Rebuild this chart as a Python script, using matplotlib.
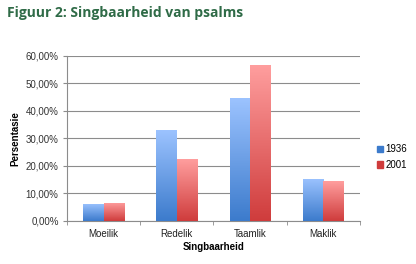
import numpy as np
import matplotlib.pyplot as plt
from matplotlib.colors import LinearSegmentedColormap
from matplotlib.ticker import FuncFormatter, MultipleLocator

# Data
categories = ['Moeilik', 'Redelik', 'Taamlik', 'Maklik']
series_names = ['1936', '2001']
values_1936 = [6.3, 33.0, 44.6, 15.4]
values_2001 = [6.7, 22.5, 56.6, 14.5]

# gradient colours (top, bottom)
blue_grad = ['#9cc3ff', '#3c7bcc']
red_grad = ['#ff9e9e', '#cf3c3c']

plt.rcParams['font.family'] = ['Liberation Sans', 'DejaVu Sans']

fig = plt.figure(figsize=(4.16, 2.64), dpi=100)
ax = fig.add_axes([0.161, 0.163, 0.704, 0.625])

x = np.arange(len(categories))
w = 0.28


def gradient_bars(bars, cols):
    cmap = LinearSegmentedColormap.from_list('g', [cols[1], cols[0]])
    grad = np.linspace(0, 1, 256).reshape(-1, 1)
    for b in bars:
        x0, y0 = b.get_x(), b.get_y()
        x1, y1 = x0 + b.get_width(), y0 + b.get_height()
        im = ax.imshow(grad, extent=[x0, x1, y0, y1], origin='lower',
                       cmap=cmap, aspect='auto', zorder=3)
        im.set_clip_path(b)


bars1 = ax.bar(x - w / 2, values_1936, w, color='none', zorder=2)
bars2 = ax.bar(x + w / 2, values_2001, w, color='none', zorder=2)
gradient_bars(bars1, blue_grad)
gradient_bars(bars2, red_grad)

ax.set_xlim(-0.5, len(categories) - 0.5)
ax.set_ylim(0, 60)
ax.yaxis.set_major_locator(MultipleLocator(10))
ax.yaxis.set_major_formatter(FuncFormatter(lambda v, p: f'{v:.2f}%'.replace('.', ',')))
ax.grid(axis='y', color='#8c8c8c', linewidth=0.8, zorder=0)
ax.set_axisbelow(True)

ax.set_xticks(x)
ax.set_xticklabels(categories)
ax.set_xticks(np.arange(len(categories) + 1) - 0.5, minor=True)
ax.tick_params(axis='x', which='major', length=0, labelsize=7, pad=6, colors='#222222')
ax.tick_params(axis='x', which='minor', length=3, color='#8c8c8c')
ax.tick_params(axis='y', length=3, color='#8c8c8c', labelsize=7, pad=3, labelcolor='#333333')

for s in ['top', 'right']:
    ax.spines[s].set_visible(False)
for s in ['left', 'bottom']:
    ax.spines[s].set_color('#8c8c8c')
    ax.spines[s].set_linewidth(0.8)

ax.set_ylabel('Persentasie', fontsize=7, fontweight='bold', labelpad=4)
ax.set_xlabel('Singbaarheid', fontsize=7, fontweight='bold', labelpad=2)

# legend
handles = [plt.Rectangle((0, 0), 1, 1, color=blue_grad[1]),
           plt.Rectangle((0, 0), 1, 1, color=red_grad[1])]
fig.legend(handles, series_names, loc='center left', bbox_to_anchor=(0.885, 0.405),
           frameon=False, fontsize=7, handlelength=0.6, handleheight=0.6,
           handletextpad=0.3, labelspacing=0.6)

fig.text(0.017, 0.952, 'Figuur 2: Singbaarheid van psalms', fontsize=10,
         fontweight='bold', color='#2f6b47', family='Open Sans', va='center')

fig.savefig('out.png', dpi=100)
